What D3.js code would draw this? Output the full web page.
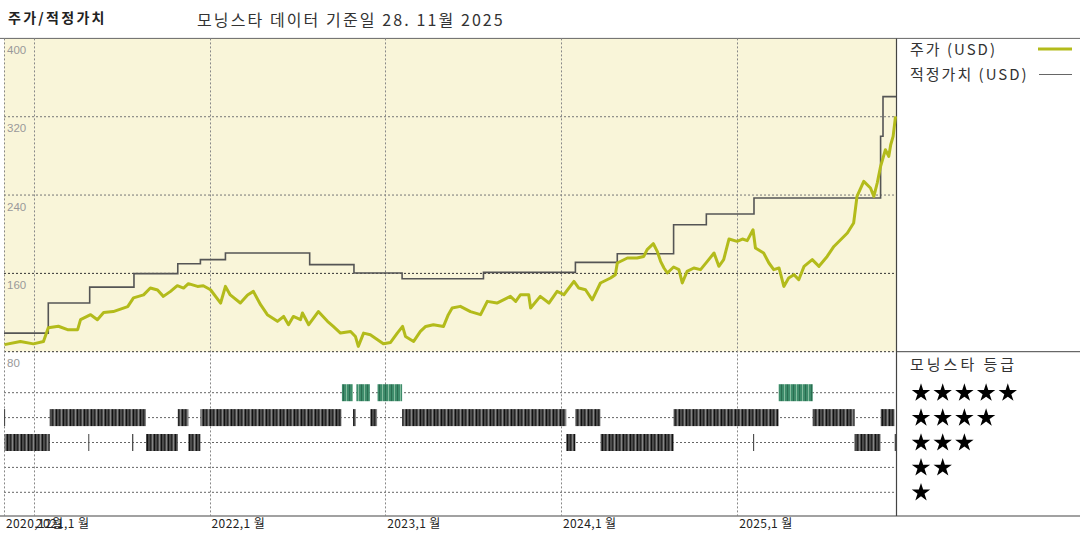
<!DOCTYPE html>
<html><head><meta charset="utf-8">
<script src="https://cdn.jsdelivr.net/npm/d3@7"></script>
<style>
html,body{margin:0;padding:0;background:#fff;}
svg{display:block;font-family:"Noto Sans CJK KR","Noto Sans",sans-serif;}
</style></head>
<body><svg id="c" width="1080" height="540"></svg>
<script>
// ---------- DATA ----------
const priceDates = ["2020-11-01","2020-12-04","2020-12-31","2021-01-21","2021-01-31","2021-02-21","2021-03-12","2021-04-02","2021-04-08","2021-04-29","2021-05-13","2021-05-26","2021-06-15","2021-07-15","2021-07-27","2021-08-17","2021-08-31","2021-09-15","2021-09-27","2021-10-12","2021-10-26","2021-11-08","2021-11-18","2021-12-07","2021-12-19","2022-01-03","2022-01-24","2022-02-03","2022-02-13","2022-03-06","2022-03-21","2022-04-02","2022-04-17","2022-05-01","2022-05-22","2022-06-04","2022-06-14","2022-06-24","2022-07-09","2022-07-13","2022-07-26","2022-08-15","2022-09-03","2022-09-15","2022-09-30","2022-10-21","2022-10-31","2022-11-06","2022-11-17","2022-12-01","2022-12-16","2022-12-28","2023-01-12","2023-01-26","2023-02-06","2023-02-12","2023-03-01","2023-03-15","2023-03-26","2023-04-11","2023-05-02","2023-05-12","2023-05-20","2023-06-06","2023-06-27","2023-07-18","2023-08-01","2023-08-21","2023-09-18","2023-09-29","2023-10-09","2023-10-26","2023-10-30","2023-11-19","2023-12-07","2023-12-24","2024-01-07","2024-01-28","2024-02-07","2024-02-21","2024-03-06","2024-03-23","2024-04-13","2024-04-23","2024-04-27","2024-05-18","2024-06-07","2024-06-21","2024-06-28","2024-07-11","2024-07-19","2024-07-26","2024-08-02","2024-08-09","2024-08-22","2024-09-02","2024-09-09","2024-09-19","2024-10-03","2024-10-17","2024-10-31","2024-11-14","2024-11-24","2024-12-04","2024-12-15","2025-01-01","2025-01-12","2025-01-22","2025-02-03","2025-02-08","2025-02-25","2025-03-08","2025-03-18","2025-03-29","2025-04-08","2025-04-18","2025-04-29","2025-05-09","2025-05-20","2025-06-06","2025-06-20","2025-07-07","2025-07-21","2025-08-04","2025-08-18","2025-08-31","2025-09-07","2025-09-21","2025-10-05","2025-10-12","2025-10-19","2025-10-26","2025-11-05","2025-11-12","2025-11-16","2025-11-21","2025-11-26"];
const priceValues = [87.2,90.5,88,90.5,104.5,106,102.5,102.5,112.7,117.8,112.7,120,121,126,135,138,145,143,136.5,141.6,147.4,145,149.5,146.7,147.4,143.3,129.7,146.7,138,129.7,138,141.6,128,117.8,111,116,107.6,116,112.7,119.5,107.6,121,111,105.8,99,100.7,95.6,85.4,99,97.4,92.3,88.2,89.5,99,105.8,95.6,90.5,100.7,105.8,107.6,105.8,117.8,124.6,126.3,121,117.8,131.4,129.7,136.5,131.4,138.2,138.2,124.6,136.5,129.7,141.6,138.2,151.8,145,143.3,133,150.2,155.3,158.7,170.6,175.7,175.7,177.3,184.2,190.3,182.5,172.3,165.5,160.4,166.5,163.8,150.2,162,165.5,163.8,172.3,180.8,167.2,174,195.1,192.7,195.1,193.4,204.6,185.9,180.8,170.6,163.8,165.5,146.7,155.3,158.7,153.5,167.2,174,167.2,177.3,187.5,194.4,201.2,211.4,238.6,254,247.2,238.6,252.3,269.3,286.3,279.5,291.4,299.9,320.3];

const fairDates = ["2020-10-31","2021-01-31","2021-04-27","2021-07-28","2021-10-27","2021-12-13","2022-02-03","2022-07-28","2022-10-28","2023-02-05","2023-07-24","2024-01-31","2024-04-27","2024-08-22","2024-10-29","2025-02-05","2025-10-26","2025-10-31","2025-11-27"];
const fairValues = [99,129.7,146,159.7,169.9,174,180.8,168.9,160.4,154.5,161,171.2,180.1,209.7,220.6,237,300,340.5,340.5];

const ratingStart = ["2020-11-01","2020-10-31","2021-02-03","2021-04-24","2021-07-24","2021-08-22","2021-10-27","2021-11-18","2021-12-13","2022-10-03","2022-10-26","2022-11-02","2022-12-01","2022-12-16","2023-02-05","2024-01-12","2024-01-31","2024-03-23","2024-08-22","2025-02-03","2025-03-28","2025-06-07","2025-09-02","2025-10-26","2025-11-24"];
const ratingEnd   = ["2021-02-03","2020-11-02","2021-08-22","2021-04-26","2021-07-26","2021-10-27","2021-11-18","2021-12-13","2022-10-02","2022-10-26","2022-11-01","2022-11-30","2022-12-15","2023-02-05","2024-01-12","2024-01-31","2024-03-23","2024-08-22","2025-03-28","2025-02-05","2025-06-07","2025-09-02","2025-10-26","2025-11-24","2025-11-27"];
const ratingStars = [3,4,4,3,3,3,4,3,4,5,4,5,4,5,4,3,4,3,4,3,5,4,3,4,3];

const yTicks = [80,160,240,320,400];
const xTickDates = ["2020-10-31","2021-01-01","2022-01-01","2023-01-01","2024-01-01","2025-01-01"];
const xTickLabels = ["2020,12월","2021,1 월","2022,1 월","2023,1 월","2024,1 월","2025,1 월"];
const starLevels = [5,4,3,2,1];

const titleText = "주가/적정가치";
const subtitleText = "모닝스타 데이터 기준일 28. 11월 2025";
const legendPrice = "주가 (USD)";
const legendFair = "적정가치 (USD)";
const legendRating = "모닝스타 등급";

// ---------- DRAW ----------
const P = d3.timeParse("%Y-%m-%d");
const svg = d3.select("#c");
const L = 4, R = 896, TOP = 38.4, MID = 351.7, BOT = 516;

const x = d3.scaleTime().domain([P("2020-10-31"), P("2025-11-27")]).range([L, R]);
const y = d3.scaleLinear().domain([80, 400]).range([MID, TOP]);
const yr = d3.scalePoint().domain(starLevels).range([392.7, 492.3]);

const defs = svg.append("defs");
const p1 = defs.append("pattern").attr("id","stripeDark").attr("patternUnits","userSpaceOnUse").attr("width",7).attr("height",20);
p1.append("rect").attr("width",7).attr("height",20).attr("fill","#4a4a4a");
p1.append("rect").attr("x",0).attr("width",1).attr("height",20).attr("fill","#111");
p1.append("rect").attr("x",3).attr("width",1).attr("height",20).attr("fill","#262626");
p1.append("rect").attr("x",5).attr("width",1).attr("height",20).attr("fill","#858585");
const p2 = defs.append("pattern").attr("id","stripeGreen").attr("patternUnits","userSpaceOnUse").attr("width",6).attr("height",20);
p2.append("rect").attr("width",6).attr("height",20).attr("fill","#3e8c6b");
p2.append("rect").attr("x",1).attr("width",1).attr("height",20).attr("fill","#2a6d50");
p2.append("rect").attr("x",4).attr("width",1).attr("height",20).attr("fill","#86bd9f");

// backgrounds
svg.append("rect").attr("x",L).attr("y",TOP).attr("width",R-L).attr("height",MID-TOP).attr("fill","#f9f5d9");

// title
svg.append("text").attr("x",8).attr("y",23).attr("font-size",14).attr("font-weight","bold")
  .attr("letter-spacing",2.3).attr("fill","#222").text(titleText);
svg.append("text").attr("x",197).attr("y",26).attr("font-size",16).attr("letter-spacing",2.1)
  .attr("fill","#333").text(subtitleText);

// horizontal frame lines
svg.append("line").attr("x1",0).attr("x2",1080).attr("y1",TOP).attr("y2",TOP).attr("stroke","#666").attr("stroke-width",1);
svg.append("line").attr("x1",0).attr("x2",1080).attr("y1",BOT).attr("y2",BOT).attr("stroke","#444").attr("stroke-width",1.2);
svg.append("line").attr("x1",R).attr("x2",1080).attr("y1",MID).attr("y2",MID).attr("stroke","#444").attr("stroke-width",1);
svg.append("line").attr("x1",R+0.5).attr("x2",R+0.5).attr("y1",TOP).attr("y2",BOT).attr("stroke","#444").attr("stroke-width",1.2);

// y gridlines (price panel)
const gy = svg.append("g");
gy.selectAll("line").data(yTicks.filter(d=>d<400)).join("line")
  .attr("x1",L).attr("x2",R).attr("y1",d=>y(d)).attr("y2",d=>y(d))
  .attr("stroke",d=>d===160||d===80?"#333":"#777").attr("stroke-width",1).attr("stroke-dasharray","2,2");
gy.selectAll("text").data(yTicks).join("text")
  .attr("x",L+3).attr("y",d=>y(d)+15.5).attr("font-size",11.5).attr("fill","#999")
  .attr("font-family","Liberation Sans, Arial, sans-serif").text(d=>d);

// rating gridlines
svg.append("g").selectAll("line").data(starLevels).join("line")
  .attr("x1",L).attr("x2",R).attr("y1",d=>yr(d)).attr("y2",d=>yr(d))
  .attr("stroke","#666").attr("stroke-width",1).attr("stroke-dasharray","2,2");

// vertical gridlines
svg.append("g").selectAll("line").data(xTickDates).join("line")
  .attr("x1",d=>Math.round(x(P(d)))+0.5).attr("x2",d=>Math.round(x(P(d)))+0.5)
  .attr("y1",TOP).attr("y2",BOT)
  .attr("stroke","#888").attr("stroke-width",1).attr("stroke-dasharray","2,2");

// x labels
svg.append("g").selectAll("text").data(xTickDates).join("text")
  .attr("x",d=>x(P(d))+2).attr("y",528).attr("font-size",12).attr("letter-spacing",0.4).attr("fill","#222")
  .text((d,i)=>xTickLabels[i]);

// rating bars
const ratings = ratingStars.map((s,i)=>({s, a:P(ratingStart[i]), b:P(ratingEnd[i])}));
svg.append("g").selectAll("rect").data(ratings).join("rect")
  .attr("x",d=>x(d.a)).attr("width",d=>Math.max(1.2, x(d.b)-x(d.a)))
  .attr("y",d=>yr(d.s)-8.5).attr("height",17)
  .attr("fill",d=>d.s===5?"url(#stripeGreen)":"url(#stripeDark)");

// fair value step line
const fair = fairDates.map((d,i)=>({d:P(d), v:fairValues[i]}));
svg.append("path").datum(fair)
  .attr("d", d3.line().x(d=>x(d.d)).y(d=>y(d.v)).curve(d3.curveStepAfter))
  .attr("fill","none").attr("stroke","#555").attr("stroke-width",1.6);

// price line
const price = priceDates.map((d,i)=>({d:P(d), v:priceValues[i]}));
svg.append("path").datum(price)
  .attr("d", d3.line().x(d=>x(d.d)).y(d=>y(d.v)))
  .attr("fill","none").attr("stroke","#b3bb1b").attr("stroke-width",3).attr("stroke-linejoin","round");

// legend
svg.append("text").attr("x",910).attr("y",55).attr("font-size",15).attr("letter-spacing",2).attr("fill","#333").text(legendPrice);
svg.append("line").attr("x1",1038).attr("x2",1072).attr("y1",49).attr("y2",49).attr("stroke","#b3bb1b").attr("stroke-width",3);
svg.append("text").attr("x",910).attr("y",80).attr("font-size",15).attr("letter-spacing",2).attr("fill","#333").text(legendFair);
svg.append("line").attr("x1",1039).attr("x2",1072).attr("y1",74.5).attr("y2",74.5).attr("stroke","#666").attr("stroke-width",1.2);

svg.append("text").attr("x",910).attr("y",370).attr("font-size",15).attr("letter-spacing",3).attr("fill","#333").text(legendRating);
const star = d3.symbol().type(d3.symbolStar).size(105);
const sg = svg.append("g");
starLevels.forEach(s=>{
  sg.selectAll(null).data(d3.range(s)).join("path")
    .attr("d",star).attr("fill","#000")
    .attr("transform",i=>`translate(${921+i*21.7},${yr(s)+0.3})`);
});
</script></body></html>
